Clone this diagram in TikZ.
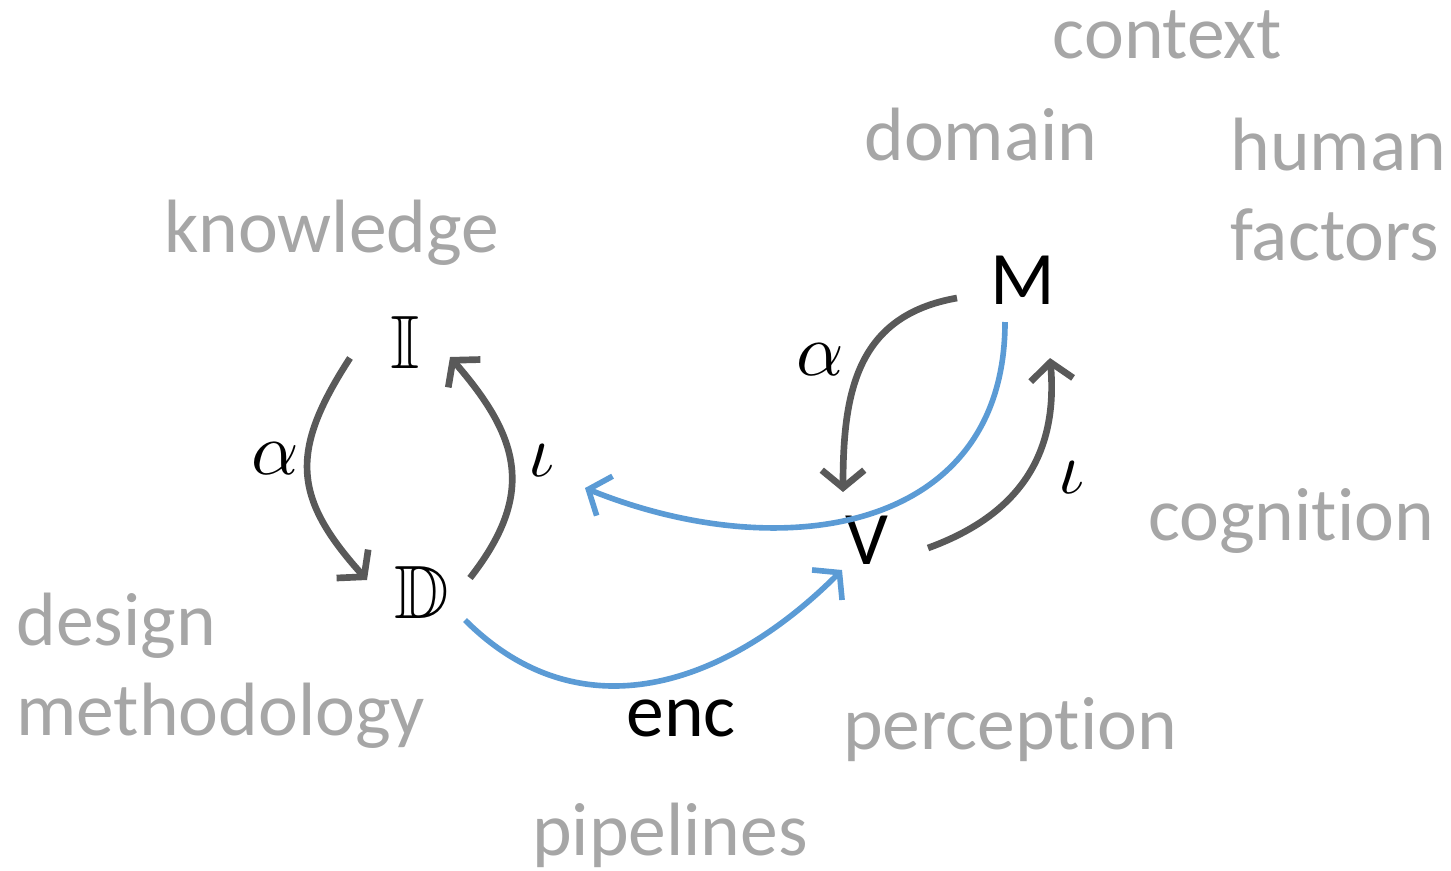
\documentclass[tikz,border=0pt]{standalone}
\usepackage{amssymb}
\DeclareFontFamily{U}{msb}{}
\DeclareFontShape{U}{msb}{m}{n}{<-> msbm10}{}
\DeclareFontShape{OML}{cmm}{m}{it}{<-> cmmi10}{}
\usepackage{fontspec}
\setmainfont{Carlito}[Ligatures=NoCommon]
\usetikzlibrary{arrows.meta}
\definecolor{topicgray}{HTML}{A6A6A6}
\definecolor{cyclegray}{HTML}{595959}
\definecolor{encblue}{HTML}{5B9BD5}
\begin{document}
\begin{tikzpicture}[topic/.style={text=topicgray,font=\fontsize{43}{50}\selectfont,anchor=base,inner sep=0pt},
    space/.style={font=\fontsize{43}{50}\selectfont,inner sep=0pt},
    greek/.style={font=\fontsize{42}{50}\selectfont,inner sep=0pt},
    cycle/.style={draw=cyclegray,line width=3.8pt,-{Straight Barb[length=3.5mm,width=8.5mm]}},
    flow/.style={draw=encblue,line width=3.2pt,-{Straight Barb[length=3.5mm,width=8.5mm]}}]
        \useasboundingbox (0,0) rectangle (29.02,-17.4);
        % the four spaces
        \node[space] (I) at (8.1,-6.84) {$\mathbb{I}$};
        \node[space] (D) at (8.44,-11.84) {$\mathbb{D}$};
        \node[space] (M) at (20.46,-5.6) {M};
        \node[space] (V) at (17.34,-10.8) {V};
        \coordinate (back) at (11.7,-9.76);
        % maps
        \draw[cycle] ([shift={(-1.1,-0.32)}]I.center) to[out=-123,in=132,looseness=1.28] ([shift={(-1.1,0.24)}]D.center);
        \draw[cycle] ([shift={(0.96,0.28)}]D.center) to[out=52,in=-49,looseness=1.23] ([shift={(0.9,-0.3)}]I.center);
        \draw[cycle] ([shift={(-1.32,-0.36)}]M.center) to[out=190,in=90,looseness=1.15] ([shift={(-0.48,0.96)}]V.center);
        \draw[cycle] ([shift={(1.22,-0.16)}]V.center) to[out=20,in=-85,looseness=1.1] ([shift={(0.54,-1.56)}]M.center);
        \draw[flow] ([shift={(0.86,-0.56)}]D.center) to[out=-45,in=-135,looseness=1.1] ([shift={(-0.5,-0.6)}]V.center);
        \draw[flow] ([shift={(-0.36,-0.84)}]M.center) to[out=-90,in=-22,looseness=1.2] (back);
        % map labels
        \node[greek] (aL) at (5.5,-9.18) {$\alpha$};
        \node[greek] (iL) at (10.84,-9.22) {$\iota$};
        \node[greek] (aR) at (16.4,-7.2) {$\alpha$};
        \node[greek] (iR) at (21.44,-9.56) {$\iota$};
        \node[space,anchor=base] (enc) at (13.62,-14.72) {enc};
        % topics
        \node[topic] (context) at (23.35,-1.16) {context};
        \node[topic] (domain) at (19.62,-3.2) {domain};
        \node[topic,anchor=base west] (human) at (24.6,-3.4) {human};
        \node[topic,anchor=base west] (factors) at (24.6,-5.2) {factors};
        \node[topic] (knowledge) at (6.63,-5.04) {knowledge};
        \node[topic] (cognition) at (25.82,-10.8) {cognition};
        \node[topic,anchor=base west] (design) at (0.32,-12.9) {design};
        \node[topic,anchor=base west] (method) at (0.32,-14.7) {methodology};
        \node[topic] (perception) at (20.2,-14.98) {perception};
        \node[topic] (pipelines) at (13.4,-17.1) {pipelines};
    \end{tikzpicture}
\end{document}
